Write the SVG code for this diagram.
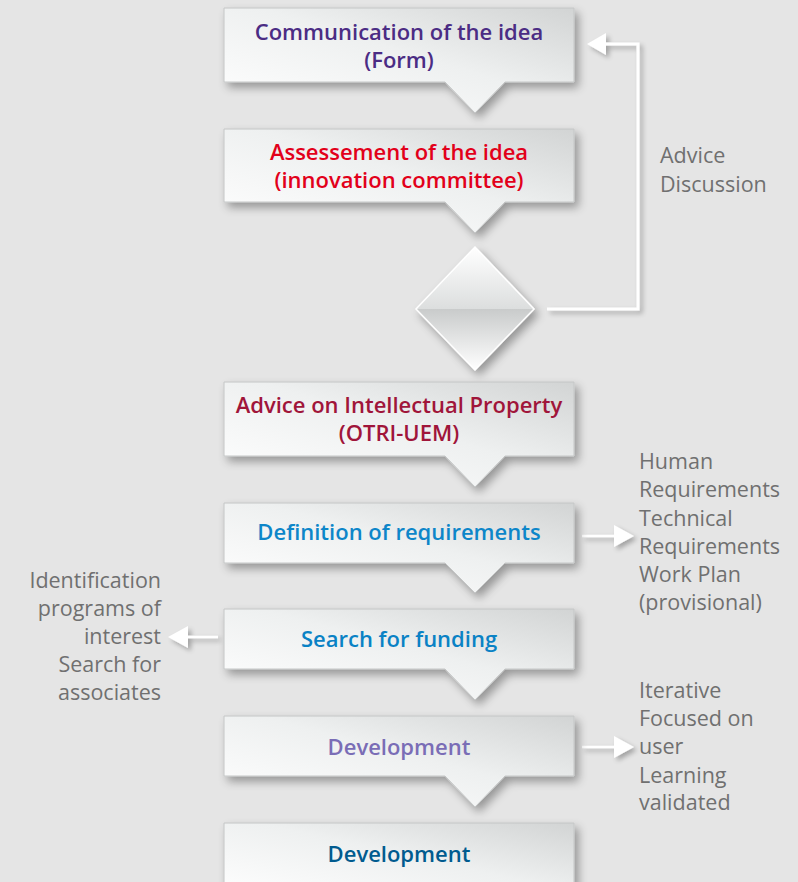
<svg xmlns="http://www.w3.org/2000/svg" width="798" height="882" viewBox="0 0 798 882">
<defs>
  <linearGradient id="boxGrad" x1="0" y1="1" x2="1" y2="0">
    <stop offset="0" stop-color="#ffffff"/>
    <stop offset="0.55" stop-color="#eef0f0"/>
    <stop offset="1" stop-color="#d2d4d4"/>
  </linearGradient>
  <linearGradient id="diaTop" x1="0" y1="0" x2="0" y2="1">
    <stop offset="0" stop-color="#ffffff"/>
    <stop offset="1" stop-color="#dcdede"/>
  </linearGradient>
  <linearGradient id="diaBot" x1="0" y1="0" x2="0" y2="1">
    <stop offset="0" stop-color="#c9cbcb"/>
    <stop offset="1" stop-color="#ffffff"/>
  </linearGradient>
  <filter id="shadow" x="-20%" y="-30%" width="140%" height="170%">
    <feGaussianBlur in="SourceAlpha" stdDeviation="5"/>
    <feOffset dx="4" dy="5" result="b"/>
    <feComponentTransfer><feFuncA type="linear" slope="0.35"/></feComponentTransfer>
    <feMerge><feMergeNode/><feMergeNode in="SourceGraphic"/></feMerge>
  </filter>
  <filter id="lshadow" x="-20%" y="-20%" width="140%" height="140%">
    <feGaussianBlur in="SourceAlpha" stdDeviation="2.5"/>
    <feOffset dx="3" dy="3" result="b"/>
    <feComponentTransfer><feFuncA type="linear" slope="0.3"/></feComponentTransfer>
    <feMerge><feMergeNode/><feMergeNode in="SourceGraphic"/></feMerge>
  </filter>
</defs>
<style>
  .box { fill: url(#boxGrad); stroke: #c4c6c6; stroke-width: 1; filter: url(#shadow); }
  .t { font-family: "Open Sans", "Noto Sans", "Liberation Sans", sans-serif; font-size: 22px; font-weight: 600; text-anchor: middle; }
  .side { font-family: "Open Sans", "Noto Sans", "Liberation Sans", sans-serif; font-size: 21.5px; fill: #707070; }
  .wl { fill: none; stroke: #ffffff; stroke-width: 3; }
  .wl2 { fill: none; stroke: #ffffff; stroke-width: 2.5; }
  .ah { fill: #ffffff; }
</style>
<rect width="798" height="882" fill="#e5e5e5"/>

<g id="connectors" filter="url(#lshadow)">
  <path class="wl" d="M547,309 H638 V44 H600"/>
  <polygon class="ah" points="587,44 606,33 606,55"/>
  <path class="wl2" d="M582,536 H616"/>
  <polygon class="ah" points="634,536 614,525 614,547"/>
  <path class="wl2" d="M218,637 H184"/>
  <polygon class="ah" points="168,637 188,626 188,648"/>
  <path class="wl2" d="M582,747 H616"/>
  <polygon class="ah" points="634,747 614,736 614,758"/>
</g>

<g id="node1">
  <path class="box" d="M224,8 H574 V82 H505 L475,113 L445,82 H224 Z"/>
  <text class="t" x="399" y="40" fill="#4b2c84">Communication of the idea</text>
  <text class="t" x="399" y="68" fill="#4b2c84">(Form)</text>
</g>
<g id="node2">
  <path class="box" d="M224,129 H574 V202 H505 L475,233 L445,202 H224 Z"/>
  <text class="t" x="399" y="160" fill="#e2001a">Assessement of the idea</text>
  <text class="t" x="399" y="188" fill="#e2001a">(innovation committee)</text>
</g>
<g id="decision" filter="url(#shadow)">
  <polygon points="416,309 475,247 534,309" fill="url(#diaTop)"/>
  <polygon points="416,309 534,309 475,370" fill="url(#diaBot)"/>
  <polygon points="416,309 475,247 534,309 475,370" fill="none" stroke="#ffffff" stroke-width="1.5"/>
</g>
<g id="node3">
  <path class="box" d="M224,382 H574 V456 H505 L475,487 L445,456 H224 Z"/>
  <text class="t" x="399" y="413" fill="#a0153a">Advice on Intellectual Property</text>
  <text class="t" x="399" y="441" fill="#a0153a">(OTRI-UEM)</text>
</g>
<g id="node4">
  <path class="box" d="M224,503 H574 V563 H505 L475,593 L445,563 H224 Z"/>
  <text class="t" x="399" y="540" fill="#0d86c9">Definition of requirements</text>
</g>
<g id="node5">
  <path class="box" d="M224,609 H574 V669 H505 L475,700 L445,669 H224 Z"/>
  <text class="t" x="399" y="647" fill="#0a82c5">Search for funding</text>
</g>
<g id="node6">
  <path class="box" d="M224,716 H574 V776 H505 L475,807 L445,776 H224 Z"/>
  <text class="t" x="399" y="755" fill="#7a6db6">Development</text>
</g>
<g id="node7">
  <path class="box" d="M224,823 H574 V900 H224 Z"/>
  <text class="t" x="399" y="862" fill="#005b8f">Development</text>
</g>

<g id="label-advice">
  <text class="side" x="660" y="163">Advice</text>
  <text class="side" x="660" y="192">Discussion</text>
</g>
<g id="label-requirements">
  <text class="side" x="639" y="469">Human</text>
  <text class="side" x="639" y="497">Requirements</text>
  <text class="side" x="639" y="526">Technical</text>
  <text class="side" x="639" y="554">Requirements</text>
  <text class="side" x="639" y="582">Work Plan</text>
  <text class="side" x="639" y="610">(provisional)</text>
</g>
<g id="label-funding" text-anchor="end">
  <text class="side" x="161" y="588">Identification</text>
  <text class="side" x="161" y="616">programs of</text>
  <text class="side" x="161" y="644">interest</text>
  <text class="side" x="161" y="672">Search for</text>
  <text class="side" x="161" y="700">associates</text>
</g>
<g id="label-development">
  <text class="side" x="639" y="698">Iterative</text>
  <text class="side" x="639" y="726">Focused on</text>
  <text class="side" x="639" y="754">user</text>
  <text class="side" x="639" y="783">Learning</text>
  <text class="side" x="639" y="810">validated</text>
</g>
</svg>
